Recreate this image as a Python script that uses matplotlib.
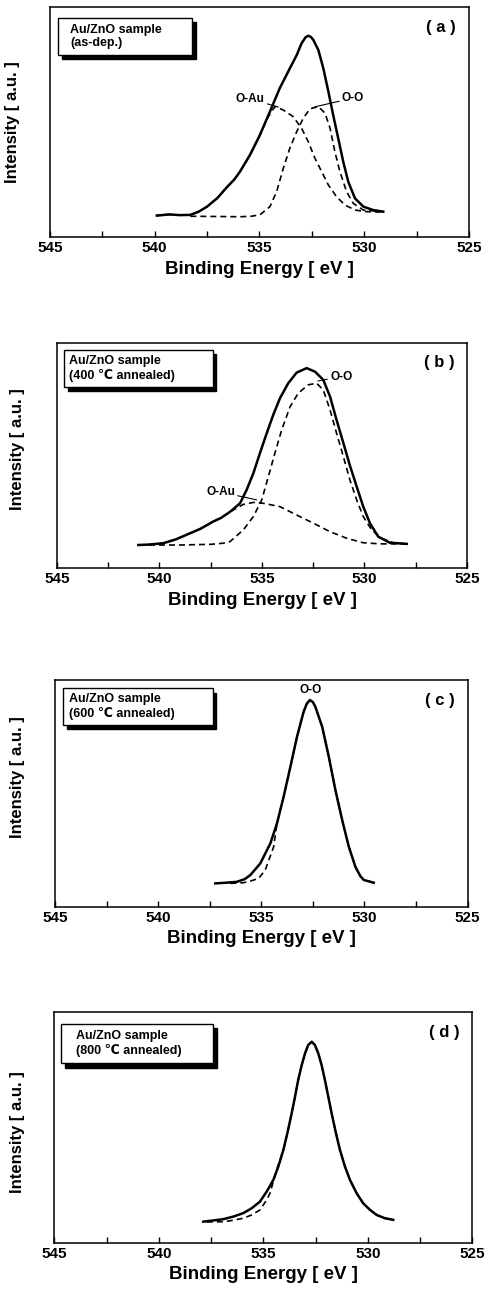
import matplotlib
matplotlib.use('Agg')
import matplotlib.pyplot as plt
from matplotlib.patches import Rectangle

plt.rcParams['font.family'] = ['Liberation Sans', 'DejaVu Sans']
plt.rcParams['font.weight'] = 'bold'

# ---- data (binding energy in eV, intensity in % of axis height)
# (a) as-dep.
a_x_sum = [539.9, 539.3, 538.8, 538.3, 537.9, 537.5, 537.0, 536.6, 536.2, 535.93, 535.45,
           534.98, 534.5, 534.03, 533.55, 533.22, 532.99, 532.8, 532.67, 532.55, 532.43,
           532.19, 531.95, 531.71, 531.48, 531.24, 531.0, 530.76, 530.44, 530.04, 529.57, 529.09]
a_y_sum = [9.3, 9.8, 9.5, 9.6, 11.0, 13.2, 17.0, 21.2, 25.0, 28.4, 35.7,
           44.3, 54.5, 64.7, 73.3, 79.1, 84.2, 86.8, 87.5, 87.0, 85.7,
           81.3, 73.3, 63.2, 53.0, 42.9, 32.7, 24.0, 16.8, 13.2, 11.7, 11.0]
a_x_oau = [539.9, 539.3, 538.8, 538.3, 537.9, 537.5, 537.0, 536.6, 536.2, 535.93, 535.45,
           534.98, 534.6, 534.26, 533.86, 533.39, 532.99, 532.67, 532.35, 532.03, 531.71,
           531.32, 530.92, 530.44, 529.88, 529.09]
a_y_oau = [9.3, 9.8, 9.5, 9.6, 11.0, 13.2, 17.0, 21.2, 25.0, 28.4, 35.7,
           44.3, 52.0, 56.7, 55.2, 52.3, 47.3, 41.4, 34.2, 28.4, 22.6,
           17.5, 13.9, 11.7, 11.0, 10.8]
a_x_oo = [538.3, 537.0, 535.93, 535.4, 534.98, 534.5, 534.18, 533.86, 533.55, 533.22, 532.91,
          532.59, 532.19, 531.87, 531.63, 531.4, 531.16, 530.84, 530.52, 530.04, 529.09]
a_y_oo = [9.0, 8.9, 8.8, 9.0, 9.6, 13.2, 19.7, 29.9, 38.6, 45.8, 51.6,
          55.7, 56.7, 53.8, 47.3, 37.1, 28.4, 19.7, 14.6, 11.7, 11.0]

# (b) 400 C annealed
b_x_sum = [541.03, 540.5, 539.81, 539.2, 538.51, 538.0, 537.38, 537.0, 536.56, 536.07, 535.75,
           535.42, 535.1, 534.77, 534.45, 534.12, 533.72, 533.31, 532.82, 532.41, 532.01,
           531.68, 531.36, 531.03, 530.71, 530.38, 530.06, 529.73, 529.33, 528.76, 527.94]
b_y_sum = [10.3, 10.5, 11.1, 12.8, 15.5, 17.5, 20.7, 22.3, 25.0, 28.8, 34.7,
           42.1, 51.0, 59.8, 68.0, 75.4, 82.0, 86.7, 88.7, 87.1, 83.5,
           76.1, 65.7, 55.5, 45.5, 36.2, 27.3, 19.9, 14.0, 11.3, 10.8]
b_x_oau = [541.03, 540.5, 539.81, 539.2, 538.51, 538.0, 537.38, 537.0, 536.56, 535.91, 535.4,
           534.94, 534.12, 533.31, 532.5, 531.68, 530.87, 530.06, 529.24, 527.94]
b_y_oau = [10.3, 10.5, 11.1, 12.8, 15.5, 17.5, 20.7, 22.3, 25.0, 28.3, 29.2,
           28.8, 27.3, 23.6, 20.0, 16.2, 13.3, 11.3, 10.8, 10.8]
b_x_oo = [541.0, 539.0, 537.5, 536.89, 536.56, 535.91, 535.42, 535.01, 534.69, 534.37, 534.04,
          533.63, 533.23, 532.74, 532.33, 532.01, 531.68, 531.36, 531.03, 530.71, 530.38,
          530.06, 529.65, 529.16, 528.6, 527.94]
b_y_oo = [10.3, 10.3, 10.6, 11.1, 11.8, 17.0, 22.9, 30.3, 40.6, 51.0, 61.3,
          71.6, 77.6, 81.3, 82.0, 79.0, 70.2, 59.8, 49.5, 39.1, 30.3,
          22.9, 17.0, 13.3, 11.3, 10.8]

# (c) 600 C annealed
c_x_sum = [537.23, 536.7, 536.18, 535.8, 535.53, 535.05, 534.56, 534.24, 533.92, 533.59,
           533.27, 532.95, 532.8, 532.65, 532.5, 532.38, 532.05, 531.73, 531.41, 531.08,
           530.76, 530.44, 530.2, 530.03, 529.55]
c_y_sum = [10.3, 10.6, 11.0, 12.2, 14.0, 19.1, 28.0, 36.8, 48.5, 61.8,
           75.0, 86.0, 89.5, 91.2, 90.3, 88.2, 79.4, 66.2, 51.5, 38.2,
           26.5, 17.6, 13.5, 11.8, 10.6]
c_x_oo = [536.5, 535.86, 535.5, 535.13, 534.81, 534.4, 534.24, 533.92, 533.59,
          533.27, 532.95, 532.8, 532.65, 532.5, 532.38, 532.05, 531.73, 531.41, 531.08,
          530.76, 530.44, 530.2, 530.03, 529.55]
c_y_oo = [10.3, 10.6, 11.4, 12.5, 16.2, 26.5, 36.8, 48.5, 61.8,
          75.0, 86.0, 89.5, 91.2, 90.3, 88.2, 79.4, 66.2, 51.5, 38.2,
          26.5, 17.6, 13.5, 11.8, 10.6]

# (d) 800 C annealed
d_x_sum = [537.87, 536.91, 536.44, 535.96, 535.56, 535.16, 534.84, 534.52, 534.28, 534.04,
           533.83, 533.64, 533.48, 533.33, 533.16, 533.0, 532.85, 532.68, 532.53, 532.37,
           532.21, 532.05, 531.89, 531.73, 531.54, 531.33, 531.09, 530.85, 530.53, 530.22,
           529.89, 529.57, 529.18, 528.78]
d_y_sum = [9.1, 10.2, 11.3, 12.8, 14.9, 17.8, 22.1, 27.2, 33.0, 40.2,
           48.2, 56.2, 63.4, 70.6, 77.1, 82.2, 85.8, 87.2, 85.8, 82.2,
           77.1, 70.6, 63.4, 56.2, 48.2, 40.2, 33.0, 27.2, 21.4, 17.1,
           14.2, 12.0, 10.6, 9.9]
d_x_oo = [537.7, 536.91, 536.44, 535.96, 535.56, 535.16, 534.84, 534.68, 534.36, 534.04,
          533.83, 533.64, 533.48, 533.33, 533.16, 533.0, 532.85, 532.68, 532.53, 532.37,
          532.21, 532.05, 531.89, 531.73, 531.54, 531.33, 531.09, 530.85, 530.53, 530.22,
          529.89, 529.57, 529.18, 528.78]
d_y_oo = [9.0, 9.1, 9.7, 10.6, 12.0, 14.2, 18.5, 21.4, 31.6, 40.2,
          48.2, 56.2, 63.4, 70.6, 77.1, 82.2, 85.8, 87.2, 85.8, 82.2,
          77.1, 70.6, 63.4, 56.2, 48.2, 40.2, 33.0, 27.2, 21.4, 17.1,
          14.2, 12.0, 10.6, 9.9]

panel_tags = ['( a )', '( b )', '( c )', '( d )']
sample_notes = ['Au/ZnO sample\n(as-dep.)',
                'Au/ZnO sample\n(400 \u2103 annealed)',
                'Au/ZnO sample\n(600 \u2103 annealed)',
                'Au/ZnO sample\n(800 \u2103 annealed)']
xticks = [545, 540, 535, 530, 525]

fig = plt.figure(figsize=(4.9, 12.9), dpi=100)

# axes rectangles [left, bottom, width, height] in figure fraction
rects = [[0.102, 0.8163, 0.855, 0.1783],
         [0.1163, 0.5595, 0.8367, 0.1749],
         [0.1122, 0.2971, 0.8422, 0.1757],
         [0.1108, 0.0367, 0.853, 0.1786]]
# box (left, bottom, right, top) and text x in axes fraction
boxes = [(0.019, 0.791, 0.339, 0.952, 0.048),
         (0.017, 0.805, 0.380, 0.968, 0.030),
         (0.020, 0.800, 0.382, 0.963, 0.033),
         (0.016, 0.778, 0.380, 0.948, 0.052)]
ylab_pos = [(-0.072, 0.5), (-0.078, 0.53), (-0.073, 0.57), (-0.07, 0.48)]

dash = (0, (3.6, 2.4))
axes = []
for i in range(4):
    ax = fig.add_axes(rects[i])
    axes.append(ax)
    ax.set_xlim(545, 525)
    ax.set_ylim(0, 100)
    ax.set_xticks(xticks)
    ax.set_xticks([542.5, 537.5, 532.5, 527.5], minor=True)
    ax.tick_params(axis='x', which='both', direction='in', length=4, width=1,
                   labelsize=11, pad=3)
    ax.set_yticks([])
    for s in ax.spines.values():
        s.set_linewidth(1.1)
    ax.set_xlabel('Binding Energy [ eV ]', fontsize=13.5, fontweight='bold', labelpad=4)
    ax.set_ylabel('Intensity [ a.u. ]', fontsize=12, fontweight='bold')
    ax.yaxis.set_label_coords(*ylab_pos[i])
    l, b, r, t, tx = boxes[i]
    ax.add_patch(Rectangle((l + 0.009, b - 0.018), r - l, t - b, transform=ax.transAxes,
                           facecolor='black', edgecolor='black', zorder=4))
    ax.add_patch(Rectangle((l, b), r - l, t - b, transform=ax.transAxes,
                           facecolor='white', edgecolor='black', linewidth=1.0, zorder=5))
    ax.text(tx, (b + t) / 2, sample_notes[i], transform=ax.transAxes, fontsize=9,
            fontweight='bold', va='center', ha='left', linespacing=1.2, zorder=6)
    ax.text(0.932, 0.912, panel_tags[i], transform=ax.transAxes, fontsize=12,
            fontweight='bold', ha='center', va='center')

ax = axes[0]
ax.plot(a_x_sum, a_y_sum, color='black', lw=1.8)
ax.plot(a_x_oau, a_y_oau, color='black', lw=1.2, ls=dash)
ax.plot(a_x_oo, a_y_oo, color='black', lw=1.2, ls=dash)
ax.annotate('O-Au', xy=(534.1, 56.5), xytext=(534.75, 60), fontsize=8.5, ha='right',
            va='center', arrowprops=dict(arrowstyle='-', lw=0.8, shrinkA=0, shrinkB=0))
ax.annotate('O-O', xy=(532.35, 56.6), xytext=(531.06, 60.4), fontsize=8.5, ha='left',
            va='center', arrowprops=dict(arrowstyle='-', lw=0.8, shrinkA=0, shrinkB=0))

ax = axes[1]
ax.plot(b_x_sum, b_y_sum, color='black', lw=1.8)
ax.plot(b_x_oau, b_y_oau, color='black', lw=1.2, ls=dash)
ax.plot(b_x_oo, b_y_oo, color='black', lw=1.2, ls=dash)
ax.annotate('O-O', xy=(532.27, 83), xytext=(531.68, 84.9), fontsize=8.5, ha='left',
            va='center', arrowprops=dict(arrowstyle='-', lw=0.8, shrinkA=0, shrinkB=0))
ax.annotate('O-Au', xy=(535.26, 30.3), xytext=(536.32, 33.8), fontsize=8.5, ha='right',
            va='center', arrowprops=dict(arrowstyle='-', lw=0.8, shrinkA=0, shrinkB=0))

ax = axes[2]
ax.plot(c_x_sum, c_y_sum, color='black', lw=1.8)
ax.plot(c_x_oo, c_y_oo, color='black', lw=1.2, ls=dash)
ax.text(532.6, 95.6, 'O-O', fontsize=8.5, ha='center', va='center')

ax = axes[3]
ax.plot(d_x_sum, d_y_sum, color='black', lw=1.8)
ax.plot(d_x_oo, d_y_oo, color='black', lw=1.2, ls=dash)

fig.savefig('out.png', dpi=100)
